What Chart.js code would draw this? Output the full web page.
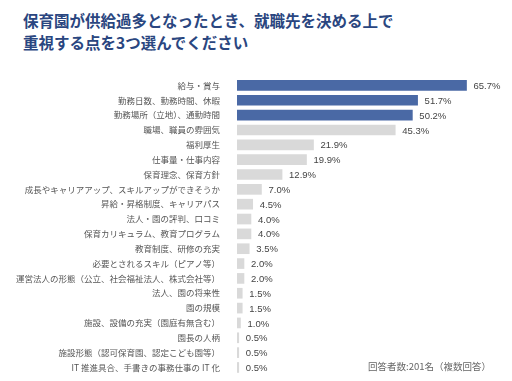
<!DOCTYPE html>
<html>
<head>
<meta charset="utf-8">
<script src="https://cdn.jsdelivr.net/npm/chart.js@4"></script>
<style>
    html, body { margin: 0; padding: 0; background: #fff; overflow: hidden; }
    #wrap { position: relative; width: 512px; height: 381px; overflow: hidden; }
    #title {
        position: absolute; left: 23px; top: 9px;
        font-family: "Noto Sans CJK JP", sans-serif; font-weight: bold;
        font-size: 15.5px; line-height: 22px; color: #2a4680;
    }
    #note {
        position: absolute; left: 368px; top: 359px;
        font-family: "Noto Sans CJK JP", sans-serif;
        font-size: 9.5px; color: #666;
    }
    canvas { position: absolute; left: 0; top: 0; }
</style>
</head>
<body>
<div id="wrap">
    <div id="title">保育園が供給過多となったとき、就職先を決める上で<br>重視する点を3つ選んでください</div>
    <canvas id="chart" width="512" height="389"></canvas>
    <div id="note">回答者数:201名（複数回答）</div>
</div>
<script>
// 回答項目と割合(%)
const categories = [
    '給与・賞与',
    '勤務日数、勤務時間、休暇',
    '勤務場所（立地）、通勤時間',
    '職場、職員の雰囲気',
    '福利厚生',
    '仕事量・仕事内容',
    '保育理念、保育方針',
    '成長やキャリアアップ、スキルアップができそうか',
    '昇給・昇格制度、キャリアパス',
    '法人・園の評判、口コミ',
    '保育カリキュラム、教育プログラム',
    '教育制度、研修の充実',
    '必要とされるスキル（ピアノ等）',
    '運営法人の形態（公立、社会福祉法人、株式会社等）',
    '法人、園の将来性',
    '園の規模',
    '施設、設備の充実（園庭有無含む）',
    '園長の人柄',
    '施設形態（認可保育園、認定こども園等）',
    'IT 推進具合、手書きの事務仕事の IT 化'
];
const percents = [65.7, 51.7, 50.2, 45.3, 21.9, 19.9, 12.9, 7.0, 4.5, 4.0, 4.0, 3.5, 2.0, 2.0, 1.5, 1.5, 1.0, 0.5, 0.5, 0.5];
const topCount = 3; // 上位3項目を青で強調

const BLUE = '#4a69a5';
const GRAY = '#d9d9d9';

const valueLabels = {
    id: 'valueLabels',
    afterDatasetsDraw(chart) {
        const ctx = chart.ctx;
        const meta = chart.getDatasetMeta(0);
        ctx.save();
        ctx.font = '9.5px "Liberation Sans", Arial, sans-serif';
        ctx.fillStyle = '#444';
        ctx.textBaseline = 'middle';
        ctx.textAlign = 'left';
        meta.data.forEach((bar, i) => {
            ctx.fillText(percents[i].toFixed(1) + '%', bar.x + 7, bar.y + 1);
        });
        ctx.restore();
    }
};

new Chart(document.getElementById('chart').getContext('2d'), {
    type: 'bar',
    data: {
        labels: categories,
        datasets: [{
            data: percents,
            backgroundColor: percents.map((v, i) => i < topCount ? BLUE : GRAY),
            borderWidth: 0,
            barThickness: 10
        }]
    },
    options: {
        indexAxis: 'y',
        responsive: false,
        animation: false,
        layout: { padding: { top: 78, bottom: 0, left: 0, right: 13 } },
        plugins: {
            legend: { display: false },
            tooltip: { enabled: false }
        },
        scales: {
            x: {
                display: false,
                min: 0,
                max: 75
            },
            y: {
                grid: { display: false },
                border: { display: false },
                ticks: {
                    color: '#555',
                    font: { family: '"Noto Sans CJK JP", sans-serif', size: 8.5 },
                    padding: 9,
                    autoSkip: false
                },
                afterFit(scale) { scale.width = 237; }
            }
        }
    },
    plugins: [valueLabels]
});
</script>
</body>
</html>
